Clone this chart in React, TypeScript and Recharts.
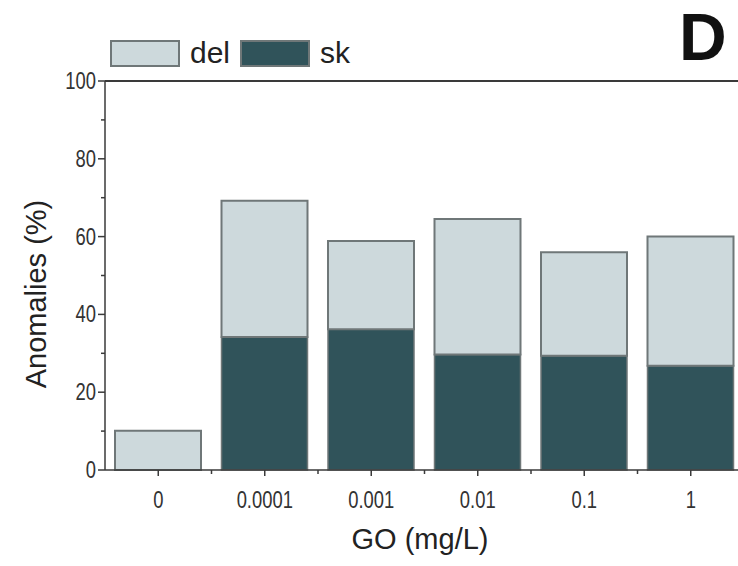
import React from "react";
import {
  BarChart,
  Bar,
  XAxis,
  YAxis,
  ReferenceLine,
} from "recharts";

// GO concentration (mg/L)
const doses = ["0", "0.0001", "0.001", "0.01", "0.1", "1"];
// skeletal anomalies (%), bottom of stack
const skValues = [0, 34.2, 36.2, 29.7, 29.4, 26.8];
// delay anomalies (%), stacked on top of sk
const delValues = [10.1, 35, 22.7, 34.8, 26.6, 33.2];
const yTicks = [0, 10, 20, 30, 40, 50, 60, 70, 80, 90, 100];

const data = doses.map((dose, i) => ({
  dose,
  sk: skValues[i],
  del: delValues[i],
}));

const FONT = "'Liberation Sans', Arial, sans-serif";
const AXIS = "#3a3a3a";
const DEL_FILL = "#cdd9dc";
const SK_FILL = "#30535a";
const EDGE = "#6f7778";

const CHART_W = 744;
const CHART_H = 566;
const PLOT_LEFT = 105;
const BAND = (CHART_W - PLOT_LEFT) / doses.length;

// the original figure uses a condensed face, so squeeze tick labels a bit
function Squeezed({ x, y, anchor, children }: any) {
  return (
    <text
      transform={`translate(${x} ${y}) scale(0.8 1)`}
      textAnchor={anchor}
      fontSize={23}
      fill="#333"
      fontFamily={FONT}
    >
      {children}
    </text>
  );
}

function YTick(props: any) {
  const { x, y, payload } = props;
  const major = payload.value % 20 === 0;
  return (
    <g>
      <line x1={x} x2={x - (major ? 7 : 4)} y1={y} y2={y} stroke={AXIS} strokeWidth={1.5} />
      {major && (
        <Squeezed x={x - 9} y={y + 8} anchor="end">
          {payload.value}
        </Squeezed>
      )}
    </g>
  );
}

function XTick(props: any) {
  const { x, y, payload } = props;
  return (
    <g>
      <line x1={x} x2={x} y1={y} y2={y + 6} stroke={AXIS} strokeWidth={1.5} />
      <line x1={x + BAND / 2} x2={x + BAND / 2} y1={y} y2={y + 4} stroke={AXIS} strokeWidth={1.5} />
      <Squeezed x={x} y={y + 38} anchor="middle">
        {payload.value}
      </Squeezed>
    </g>
  );
}

const legendItems = [
  { name: "del", fill: DEL_FILL },
  { name: "sk", fill: SK_FILL },
];

export default function App() {
  return (
    <div
      style={{
        position: "absolute",
        left: 0,
        top: 0,
        width: 738,
        height: 566,
        overflow: "hidden",
        background: "#fff",
        fontFamily: FONT,
      }}
    >
      <BarChart
        width={CHART_W}
        height={CHART_H}
        data={data}
        margin={{ top: 81, right: 0, bottom: 0, left: 0 }}
        barSize={86}
      >
        <ReferenceLine y={100} stroke={AXIS} strokeWidth={2} />
        <XAxis
          dataKey="dose"
          height={96}
          stroke={AXIS}
          strokeWidth={1.5}
          tickLine={false}
          tickSize={0}
          tickMargin={0}
          tick={<XTick />}
          interval={0}
          label={{
            content: () => (
              <text x={420} y={549} textAnchor="middle" fontSize={29} fill="#222" fontFamily={FONT}>
                GO (mg/L)
              </text>
            ),
          }}
        />
        <YAxis
          width={PLOT_LEFT}
          domain={[0, 100]}
          ticks={yTicks}
          interval={0}
          stroke={AXIS}
          strokeWidth={1.5}
          tickLine={false}
          tickSize={0}
          tickMargin={0}
          tick={<YTick />}
          label={{
            content: () => (
              <text
                x={46}
                y={294}
                transform="rotate(-90 46 294)"
                textAnchor="middle"
                fontSize={29}
                fill="#222"
                fontFamily={FONT}
              >
                Anomalies (%)
              </text>
            ),
          }}
        />
        <Bar dataKey="sk" stackId="a" fill={SK_FILL} stroke={EDGE} strokeWidth={1.5} isAnimationActive={false} />
        <Bar dataKey="del" stackId="a" fill={DEL_FILL} stroke={EDGE} strokeWidth={2} isAnimationActive={false} />
      </BarChart>

      <div style={{ position: "absolute", left: 110, top: 36, display: "flex", alignItems: "center" }}>
        {legendItems.map((item) => (
          <div key={item.name} style={{ display: "flex", alignItems: "center", marginRight: 10 }}>
            <div
              style={{
                width: 66,
                height: 23,
                background: item.fill,
                border: `2px solid ${EDGE}`,
                marginRight: 10,
              }}
            />
            <span style={{ fontSize: 30, color: "#222", lineHeight: "34px" }}>{item.name}</span>
          </div>
        ))}
      </div>

      <div
        style={{
          position: "absolute",
          left: 679,
          top: 2,
          fontSize: 66,
          fontWeight: "bold",
          color: "#111",
          lineHeight: "70px",
        }}
      >
        D
      </div>
    </div>
  );
}
